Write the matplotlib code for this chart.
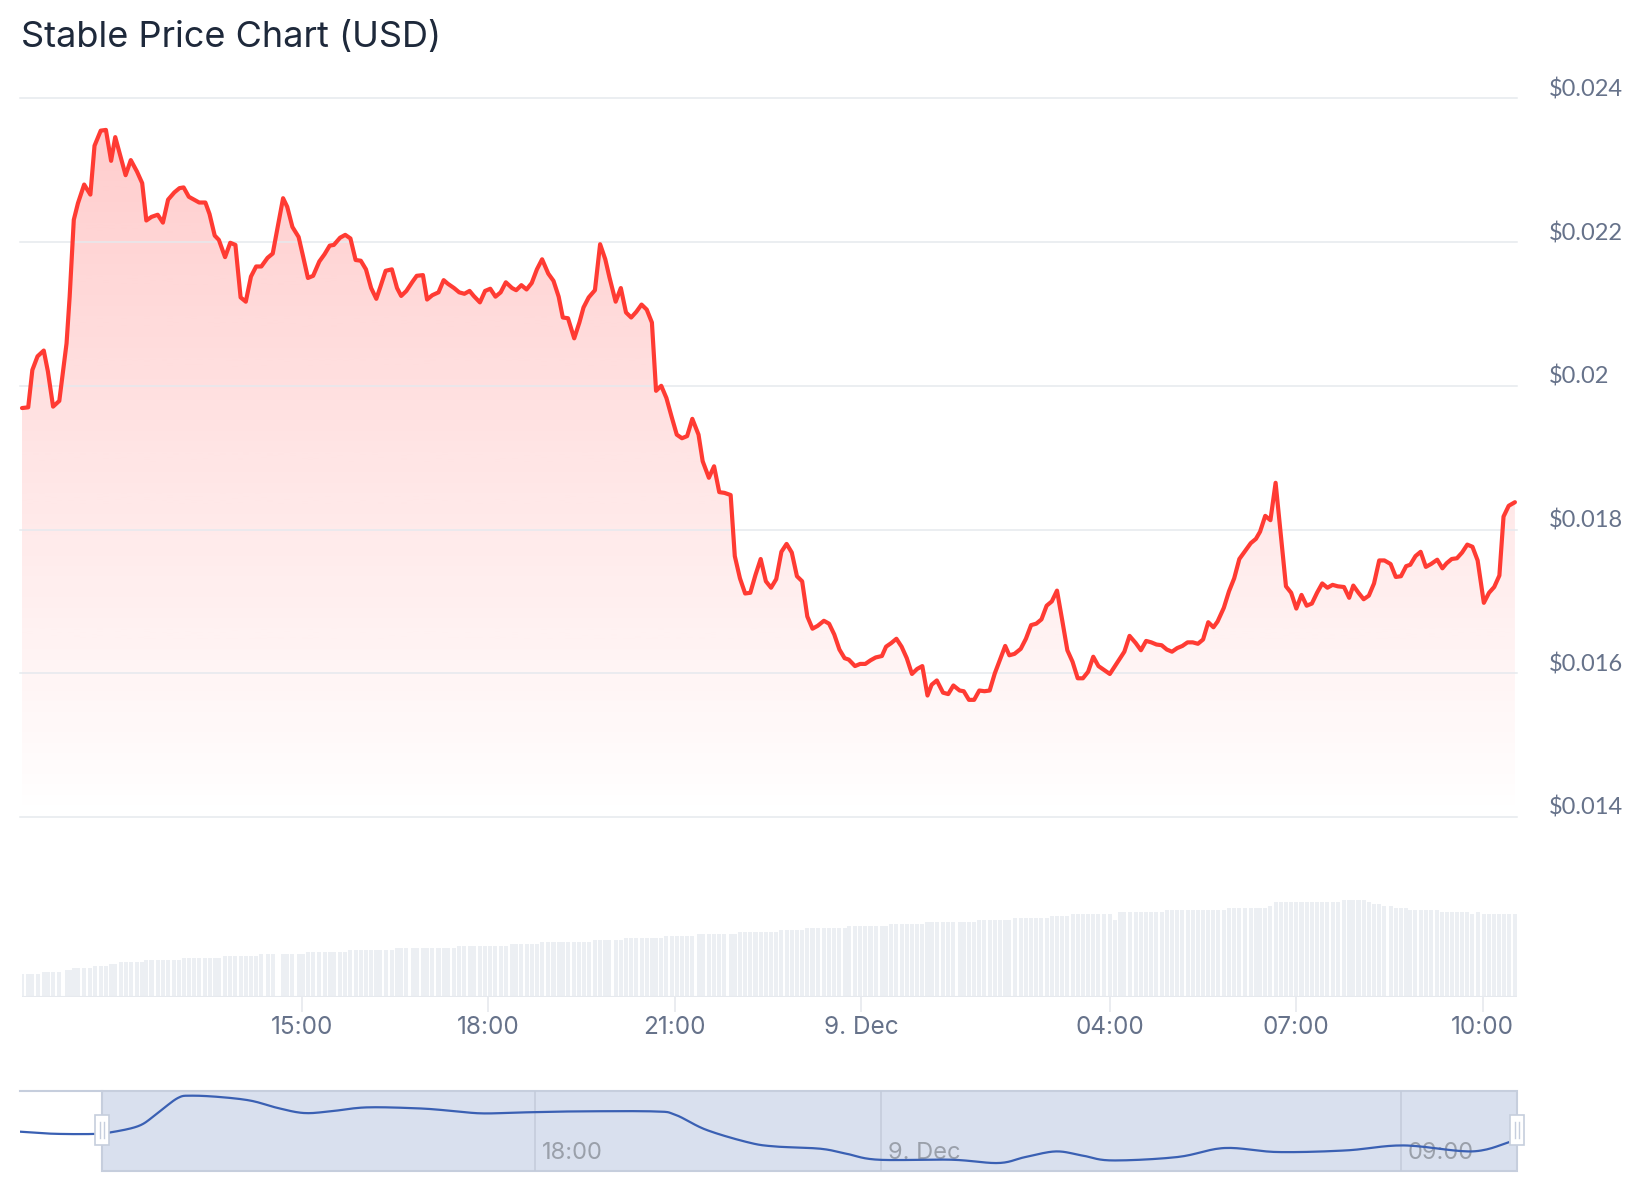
import numpy as np
import matplotlib
matplotlib.use("Agg")
import matplotlib.pyplot as plt
from matplotlib.patches import Rectangle
from matplotlib.transforms import blended_transform_factory, IdentityTransform
from datetime import datetime

W, H = 1644, 1200
START = datetime(2024, 12, 8, 10, 30)

# ---------------- data ----------------
# minutes since 8 Dec 10:30
minutes = [
    0, 6, 10, 15, 21, 25, 30, 36, 43, 46,
    50, 54, 60, 66, 70, 76, 81, 86, 90, 96,
    100, 105, 111, 116, 120, 125, 131, 136, 141, 147,
    152, 156, 161, 166, 171, 177, 181, 186, 190, 196,
    201, 206, 211, 216, 221, 226, 231, 237, 242, 252,
    256, 261, 267, 271, 276, 281, 287, 292, 297, 301,
    307, 312, 317, 322, 327, 332, 337, 342, 346, 351,
    357, 362, 366, 371, 377, 381, 387, 391, 396, 402,
    407, 411, 417, 422, 427, 432, 436, 442, 447, 452,
    457, 462, 467, 473, 477, 482, 487, 492, 497, 502,
    508, 513, 518, 522, 527, 533, 538, 542, 547, 553,
    558, 563, 567, 573, 578, 583, 588, 593, 598, 603,
    608, 612, 617, 622, 627, 632, 637, 642, 647, 653,
    657, 663, 668, 673, 678, 684, 688, 693, 698, 703,
    708, 713, 718, 723, 728, 733, 738, 743, 748, 753,
    758, 763, 768, 774, 779, 784, 789, 794, 798, 804,
    809, 814, 819, 824, 830, 834, 839, 844, 849, 854,
    859, 864, 869, 874, 878, 883, 889, 894, 899, 905,
    909, 914, 919, 924, 929, 934, 939, 944, 949, 953,
    958, 964, 969, 974, 979, 984, 989, 994, 999, 1004,
    1009, 1014, 1019, 1024, 1029, 1034, 1039, 1044, 1050, 1055,
    1060, 1064, 1069, 1075, 1080, 1085, 1090, 1095, 1100, 1105,
    1110, 1115, 1120, 1125, 1130, 1135, 1140, 1145, 1150, 1154,
    1160, 1165, 1170, 1175, 1180, 1186, 1191, 1195, 1200, 1205,
    1210, 1215, 1220, 1225, 1230, 1235, 1240, 1245, 1250, 1255,
    1260, 1265, 1270, 1276, 1281, 1285, 1290, 1295, 1300, 1305,
    1310, 1315, 1321, 1326, 1331, 1336, 1340, 1345, 1350, 1355,
    1360, 1366, 1371, 1375, 1380, 1385, 1390, 1395, 1400, 1405,
    1411, 1416, 1421, 1426, 1430, 1435, 1441,
]
price = [
    0.01969, 0.01970, 0.02022, 0.02041, 0.02049, 0.02020, 0.01971, 0.01979, 0.02059, 0.02124,
    0.02231, 0.02254, 0.02280, 0.02266, 0.02334, 0.02355, 0.02356, 0.02313, 0.02346, 0.02314,
    0.02293, 0.02314, 0.02298, 0.02282, 0.02230, 0.02235, 0.02238, 0.02227, 0.02259, 0.02269,
    0.02275, 0.02276, 0.02263, 0.02259, 0.02255, 0.02255, 0.02239, 0.02209, 0.02203, 0.02179,
    0.02199, 0.02196, 0.02123, 0.02117, 0.02152, 0.02166, 0.02166, 0.02178, 0.02184, 0.02261,
    0.02249, 0.02221, 0.02207, 0.02182, 0.02150, 0.02153, 0.02173, 0.02183, 0.02195, 0.02196,
    0.02206, 0.02210, 0.02205, 0.02175, 0.02174, 0.02162, 0.02136, 0.02121, 0.02138, 0.02160,
    0.02162, 0.02136, 0.02125, 0.02132, 0.02145, 0.02153, 0.02154, 0.02120, 0.02126, 0.02130,
    0.02147, 0.02142, 0.02136, 0.02130, 0.02128, 0.02132, 0.02125, 0.02116, 0.02132, 0.02135,
    0.02124, 0.02130, 0.02144, 0.02136, 0.02133, 0.02140, 0.02134, 0.02143, 0.02162, 0.02176,
    0.02156, 0.02146, 0.02124, 0.02095, 0.02094, 0.02066, 0.02088, 0.02109, 0.02123, 0.02133,
    0.02197, 0.02176, 0.02151, 0.02117, 0.02136, 0.02102, 0.02095, 0.02103, 0.02113, 0.02106,
    0.02088, 0.01993, 0.02000, 0.01983, 0.01957, 0.01932, 0.01927, 0.01930, 0.01954, 0.01932,
    0.01895, 0.01872, 0.01888, 0.01852, 0.01851, 0.01848, 0.01763, 0.01732, 0.01711, 0.01712,
    0.01737, 0.01759, 0.01728, 0.01719, 0.01731, 0.01769, 0.01780, 0.01768, 0.01735, 0.01728,
    0.01679, 0.01662, 0.01666, 0.01673, 0.01669, 0.01654, 0.01633, 0.01621, 0.01619, 0.01610,
    0.01613, 0.01613, 0.01618, 0.01622, 0.01624, 0.01637, 0.01642, 0.01648, 0.01637, 0.01621,
    0.01599, 0.01606, 0.01610, 0.01569, 0.01584, 0.01590, 0.01573, 0.01571, 0.01583, 0.01576,
    0.01575, 0.01563, 0.01563, 0.01576, 0.01575, 0.01576, 0.01600, 0.01619, 0.01638, 0.01625,
    0.01627, 0.01634, 0.01648, 0.01667, 0.01669, 0.01675, 0.01694, 0.01700, 0.01715, 0.01674,
    0.01632, 0.01616, 0.01593, 0.01593, 0.01602, 0.01623, 0.01610, 0.01605, 0.01599, 0.01610,
    0.01621, 0.01630, 0.01652, 0.01642, 0.01632, 0.01645, 0.01643, 0.01640, 0.01639, 0.01633,
    0.01630, 0.01635, 0.01638, 0.01643, 0.01643, 0.01641, 0.01647, 0.01671, 0.01664, 0.01672,
    0.01691, 0.01714, 0.01732, 0.01759, 0.01769, 0.01781, 0.01787, 0.01797, 0.01819, 0.01813,
    0.01865, 0.01793, 0.01721, 0.01712, 0.01690, 0.01709, 0.01694, 0.01697, 0.01712, 0.01725,
    0.01719, 0.01723, 0.01721, 0.01720, 0.01705, 0.01722, 0.01712, 0.01703, 0.01708, 0.01725,
    0.01757, 0.01757, 0.01752, 0.01734, 0.01735, 0.01749, 0.01751, 0.01763, 0.01769, 0.01748,
    0.01752, 0.01758, 0.01746, 0.01753, 0.01759, 0.01760, 0.01768, 0.01779, 0.01776, 0.01757,
    0.01698, 0.01712, 0.01720, 0.01736, 0.01818, 0.01833, 0.01838,
]

# volume (step levels, millions) : minute at which each level starts
vol_start_min = [0, 19, 39, 49, 69, 85, 95, 120, 153, 195, 230, 276, 317, 360, 422,
                 471, 502, 552, 579, 620, 652, 693, 731, 756, 796, 838, 871, 924, 957,
                 993, 1012, 1053, 1057, 1103, 1163, 1204, 1209, 1273, 1300, 1303, 1313,
                 1324, 1339, 1370, 1398, 1404, 1411]
vol_level = [2.3, 2.5, 2.7, 2.9, 3.1, 3.3, 3.5, 3.7, 3.9, 4.1, 4.3, 4.5, 4.7, 4.9, 5.1,
             5.3, 5.5, 5.7, 5.9, 6.1, 6.3, 6.5, 6.7, 6.9, 7.1, 7.3, 7.5, 7.7, 7.9,
             8.1, 8.3, 7.7, 8.5, 8.7, 8.9, 9.1, 9.5, 9.7, 9.5, 9.3, 9.1,
             8.9, 8.7, 8.5, 8.3, 8.5, 8.3]

# navigator series (smoothed overview)
nav_minutes = [-85, -51, -10, 9, 39, 58, 79, 93, 123, 155,
               183, 210, 237, 275, 329, 362, 395, 438, 492, 574,
               596, 628, 672, 699, 747, 774, 807, 883, 932, 960,
               992, 1020, 1050, 1118, 1167, 1222, 1293, 1353, 1424, 1462]
nav_price = [0.01917, 0.01894, 0.01891, 0.01909, 0.01984, 0.02126, 0.02294, 0.02320, 0.02305, 0.02264,
             0.02182, 0.02126, 0.02144, 0.02189, 0.02178, 0.02152, 0.02122, 0.02133, 0.02144, 0.02144,
             0.02107, 0.01939, 0.01797, 0.01752, 0.01726, 0.01670, 0.01603, 0.01603, 0.01566, 0.01633,
             0.01696, 0.01648, 0.01595, 0.01633, 0.01734, 0.01689, 0.01707, 0.01763, 0.01696, 0.01797]

y_ticks = [0.014, 0.016, 0.018, 0.020, 0.022, 0.024]
x_tick_times = ["2024-12-08 15:00", "2024-12-08 18:00", "2024-12-08 21:00",
                "2024-12-09 00:00", "2024-12-09 04:00", "2024-12-09 07:00", "2024-12-09 10:00"]
nav_tick_times = ["2024-12-08 18:00", "2024-12-09 00:00", "2024-12-09 09:00"]
title = "Stable Price Chart (USD)"

# ---------------- styling ----------------
LINE = "#ff3b33"
GRID = "#e6e9ee"
LABEL = "#66728a"
X_RANGE = (0, 1443)
NAV_RANGE = (-85, 1471)


def to_min(s):
    dt = datetime.strptime(s, "%Y-%m-%d %H:%M")
    return (dt - START).total_seconds() / 60.0, dt


def fmt(dt):
    if dt.hour == 0 and dt.minute == 0:
        return f"{dt.day}. {dt.strftime('%b')}"
    return dt.strftime("%H:%M")


def box(x0, y0, x1, y1):
    return [x0 / W, 1 - y1 / H, (x1 - x0) / W, (y1 - y0) / H]


def clean(ax):
    for s in ax.spines.values():
        s.set_visible(False)
    ax.set_xticks([])
    ax.set_yticks([])
    ax.patch.set_alpha(0)


fig = plt.figure(figsize=(W / 100, H / 100), dpi=100)
fig.patch.set_facecolor("white")

fig.text(21 / W, 1 - 38 / H, title, fontsize=26, family=["Inter", "DejaVu Sans"],
         color="#1e293b", va="center", ha="left")

# ---- price pane ----
ax = fig.add_axes(box(22, 98.3, 1517, 817))
clean(ax)
m = np.array(minutes, dtype=float)
p = np.array(price)

n = 256
alpha = np.linspace(0.0, 0.27, n)
rgba = np.zeros((n, 1, 4))
rgba[..., 0] = 1.0
rgba[..., 1] = 60 / 255
rgba[..., 2] = 60 / 255
rgba[:, 0, 3] = alpha
im = ax.imshow(rgba, extent=[X_RANGE[0], X_RANGE[1], y_ticks[0], y_ticks[-1]],
               origin="lower", aspect="auto", interpolation="bilinear", zorder=1)
poly = ax.fill_between(m, p, y_ticks[0], facecolor="none", edgecolor="none")
im.set_clip_path(poly.get_paths()[0], transform=ax.transData)

trans_y = blended_transform_factory(ax.transAxes, ax.transData)
for v in y_ticks:
    ax.plot([-0.0015, 1.0], [v, v], color=GRID, lw=1.1, transform=trans_y, zorder=2,
            clip_on=False)
    ax.annotate(f"${v:g}", xy=(1.0, v), xycoords=trans_y, xytext=(23, 6.5),
                textcoords="offset points", fontsize=17, color=LABEL,
                family=["Lato", "DejaVu Sans"], va="center", ha="left")

ax.plot(m, p, color=LINE, lw=3.0, solid_joinstyle="round", solid_capstyle="round",
        zorder=3, clip_on=False)
ax.set_xlim(*X_RANGE)
ax.set_ylim(y_ticks[0], y_ticks[-1])

# ---- volume pane ----
axv = fig.add_axes(box(22, 880, 1517, 997))
for s in axv.spines.values():
    s.set_visible(False)
idx = np.searchsorted(vol_start_min, m, side="right") - 1
vol = np.array(vol_level)[idx]
axv.bar(m, vol, width=3.9, color="#eceff3", align="center", zorder=1)
axv.axhline(0, color=GRID, lw=1.5, zorder=2)
axv.set_xlim(*X_RANGE)
axv.set_ylim(0, 11.7)
axv.set_yticks([])
tick_pos, tick_lab = [], []
for s in x_tick_times:
    mm, dt = to_min(s)
    tick_pos.append(mm)
    tick_lab.append(fmt(dt))
axv.set_xticks(tick_pos)
axv.set_xticklabels(tick_lab, family=["Inter", "DejaVu Sans"], fontsize=17.5, color=LABEL)
axv.tick_params(axis="x", length=11, width=1.2, color=GRID, pad=3)
axv.patch.set_alpha(0)

# ---- navigator ----
axn = fig.add_axes(box(20, 1090.7, 1517, 1170.7))
clean(axn)
axn.set_xlim(*NAV_RANGE)
axn.set_ylim(0.0148, 0.02376)
tn = blended_transform_factory(axn.transData, axn.transAxes)
sel0, sel1 = minutes[0], NAV_RANGE[1]
axn.add_patch(Rectangle((sel0, 0), sel1 - sel0, 1, transform=tn, facecolor="#d9e0ee",
                        edgecolor="#c6cedd", lw=1.5, zorder=1, clip_on=False))
axn.plot([NAV_RANGE[0], sel0], [1, 1], color="#c6cedd", lw=1.5, transform=tn,
         clip_on=False, zorder=1)
for s in nav_tick_times:
    mm, dt = to_min(s)
    axn.plot([mm, mm], [0, 1], color="#c3cbda", lw=1.1, transform=tn, zorder=2)
    axn.annotate(fmt(dt), xy=(mm, 0.22), xycoords=tn, xytext=(5, 0),
                 textcoords="offset points", fontsize=17, color="#9aa0aa",
                 family=["Inter", "DejaVu Sans"], va="center", ha="left", zorder=2)


def catmull(xs, ys, k=16):
    xs = np.asarray(xs, float)
    ys = np.asarray(ys, float)
    px = np.concatenate([[xs[0]], xs, [xs[-1]]])
    py = np.concatenate([[ys[0]], ys, [ys[-1]]])
    ox, oy = [], []
    for i in range(1, len(px) - 2):
        t = np.linspace(0, 1, k, endpoint=False)
        for arr, out in ((px, ox), (py, oy)):
            p0, p1, p2, p3 = arr[i - 1], arr[i], arr[i + 1], arr[i + 2]
            out.extend(0.5 * ((2 * p1) + (-p0 + p2) * t + (2 * p0 - 5 * p1 + 4 * p2 - p3) * t ** 2
                              + (-p0 + 3 * p1 - 3 * p2 + p3) * t ** 3))
    ox.append(xs[-1])
    oy.append(ys[-1])
    return ox, oy


sx, sy = catmull(nav_minutes, nav_price)
axn.plot(sx, sy, color="#3a60b3", lw=1.6, zorder=3)

# handles
fig.canvas.draw()
for mm in (sel0, sel1):
    xd, _ = tn.transform((mm, 0))
    yc = H - 1130
    fig.add_artist(Rectangle((xd - 7, yc - 15), 14, 30, transform=IdentityTransform(),
                             facecolor="white", edgecolor="#c6cedd", lw=1.2, zorder=5))
    for dx in (-2, 2):
        fig.add_artist(plt.Line2D([xd + dx, xd + dx], [yc - 8, yc + 8],
                                  transform=IdentityTransform(), color="#c6cedd",
                                  lw=1.0, zorder=6))

fig.savefig("out.png", dpi=100, facecolor="white")
